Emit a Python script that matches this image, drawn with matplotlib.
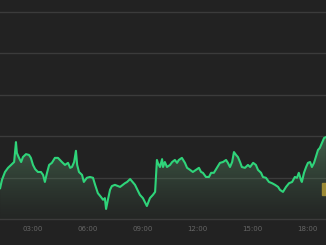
import numpy as np
import matplotlib
matplotlib.use("Agg")
import matplotlib.pyplot as plt
from matplotlib.patches import Rectangle

# minutes since 00:00
minutes = [72, 78, 88, 98, 108, 118, 124, 127, 134, 141, 147, 157, 167, 173, 180,
           187, 196, 206, 213, 219, 226, 233, 242, 252, 262, 275, 285, 295, 302, 308,
           315, 321, 325, 331, 341, 347, 357, 367, 377, 384, 393, 403, 410, 416, 420,
           426, 433, 439, 449, 459, 466, 482, 489, 499, 515, 531, 541, 554, 564, 574,
           581, 587, 590, 597, 604, 607, 613, 620, 630, 637, 646, 653, 659, 669, 679,
           686, 696, 705, 715, 725, 732, 738, 748, 758, 765, 774, 784, 794, 804, 814,
           820, 827, 834, 840, 847, 853, 860, 866, 876, 886, 893, 903, 912, 919, 929,
           935, 945, 955, 965, 975, 985, 991, 1001, 1011, 1021, 1031, 1040, 1047, 1053,
           1060, 1063, 1070, 1077, 1083, 1090, 1096, 1103, 1109, 1116, 1122, 1129, 1136, 1142]
price = [0.75, 0.95, 1.14, 1.24, 1.31, 1.38, 1.86, 1.60, 1.48, 1.38, 1.50, 1.57, 1.55, 1.48, 1.31,
         1.21, 1.14, 1.14, 1.07, 0.90, 1.12, 1.31, 1.36, 1.48, 1.48, 1.38, 1.31, 1.36, 1.24, 1.26,
         1.38, 1.65, 1.31, 1.14, 1.07, 0.90, 1.00, 1.02, 1.00, 0.83, 0.63, 0.54, 0.47, 0.51, 0.25,
         0.47, 0.71, 0.80, 0.83, 0.80, 0.78, 0.87, 0.90, 0.97, 0.83, 0.59, 0.51, 0.32, 0.51, 0.59,
         0.66, 1.43, 1.36, 1.26, 1.45, 1.26, 1.38, 1.26, 1.31, 1.38, 1.43, 1.36, 1.43, 1.48, 1.36,
         1.24, 1.19, 1.14, 1.19, 1.24, 1.14, 1.12, 1.02, 1.02, 1.12, 1.12, 1.24, 1.36, 1.38, 1.43,
         1.36, 1.26, 1.38, 1.62, 1.55, 1.50, 1.38, 1.26, 1.24, 1.31, 1.26, 1.36, 1.31, 1.19, 1.12,
         1.02, 1.00, 0.90, 0.87, 0.83, 0.78, 0.71, 0.66, 0.78, 0.87, 0.90, 1.02, 1.00, 1.12,
         0.95, 0.90, 1.12, 1.26, 1.36, 1.38, 1.26, 1.36, 1.50, 1.67, 1.72, 1.84, 1.96, 1.98]
tick_min = [180, 360, 540, 720, 900, 1080]
tick_labels = ["03:00", "06:00", "09:00", "12:00", "15:00", "18:00"]

bg = "#222222"
fig = plt.figure(figsize=(3.26, 2.45), dpi=100, facecolor=bg)
ax = fig.add_axes([0, 25.7 / 245, 1, 219.3 / 245])
ax.set_facecolor(bg)
xmin, xmax = 71.6, 1142.3
ymax = 5.284
ax.set_xlim(xmin, xmax)
ax.set_ylim(0, ymax)

for lv in range(0, 6):
    ax.axhline(lv, color="#3b3b3b", lw=1.0, zorder=1, clip_on=False)

# gradient fill under the line
n = 256
grad = np.zeros((n, 1, 4))
t = np.linspace(1, 0, n)[:, None]  # top -> bottom
grad[..., 0] = 0.38
grad[..., 1] = 0.62
grad[..., 2] = 0.45
grad[..., 3] = 0.04 + 0.45 * t ** 1.3
top = max(price)
im = ax.imshow(grad, extent=[xmin, xmax, 0, top], aspect="auto", origin="upper", zorder=2)
poly = ax.fill_between(minutes, price, 0, color="none", lw=0)
path = poly.get_paths()[0]
im.set_clip_path(path, transform=ax.transData)

ax.plot(minutes, price, color="#2fd47a", lw=1.5, zorder=3, solid_joinstyle="round")

ax.set_xticks(tick_min)
ax.set_xticklabels(tick_labels)
ax.tick_params(axis="x", length=0, pad=4.5, labelsize=5, labelcolor="#666666")
ax.set_yticks([])
for s in ax.spines.values():
    s.set_visible(False)

fig.patches.append(Rectangle((322 / 326, 50 / 245), 5 / 326, 12 / 245,
                             transform=fig.transFigure, color="#9c8a34", zorder=5))

fig.savefig("out.png", dpi=100, facecolor=bg)
